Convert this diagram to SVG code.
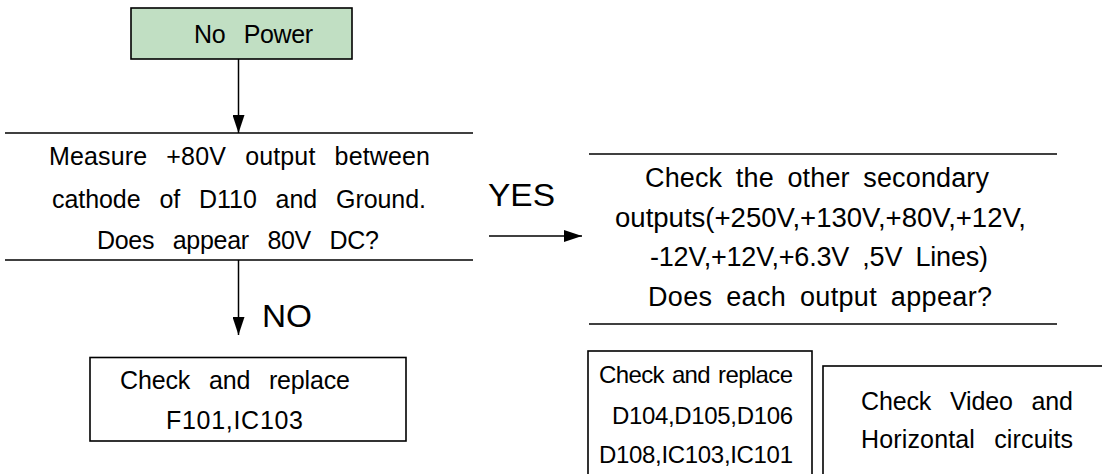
<svg xmlns="http://www.w3.org/2000/svg" width="1102" height="474" viewBox="0 0 1102 474">
<style>
text{font-family:"Liberation Sans",Arial,sans-serif;fill:#000}
.t{font-size:25px;letter-spacing:0px;word-spacing:12px}
.m{font-size:24px;letter-spacing:0px;word-spacing:2px}
.r{font-size:27px;word-spacing:6px}
.big{font-size:31px}
.bx{fill:#fff;stroke:#000;stroke-width:1.6}
.ln{stroke:#000;stroke-width:1.6;fill:none}
.ar{stroke:#000;stroke-width:1.5;fill:none;marker-end:url(#ah)}
</style>
<defs>
<marker id="ah" markerUnits="userSpaceOnUse" markerWidth="18" markerHeight="12" refX="18" refY="6" orient="auto">
<path d="M0,0 L18,6 L0,12 z" fill="#000"/>
</marker>
</defs>
<g id="connectors">
<line class="ar" x1="238.5" y1="59" x2="238.5" y2="133"/>
<line class="ar" x1="238.5" y1="260" x2="238.5" y2="335"/>
<line class="ar" x1="489" y1="236" x2="582" y2="236"/>
<text class="big" x="488" y="206" textLength="67" lengthAdjust="spacingAndGlyphs">YES</text>
<text class="big" x="262" y="327" font-size="33" textLength="50" lengthAdjust="spacingAndGlyphs">NO</text>
</g>
<g id="start">
<rect x="131" y="8" width="221" height="51" fill="#c1dfc3" stroke="#000" stroke-width="1.6"/>
<text class="t" x="194" y="43" textLength="119">No Power</text>
</g>
<g id="decision1">
<line class="ln" x1="5" y1="133" x2="473" y2="133"/>
<line class="ln" x1="5" y1="260" x2="473" y2="260"/>
<text class="t" x="49" y="165" textLength="381">Measure +80V output between</text>
<text class="t" x="52" y="208" textLength="374">cathode of D110 and Ground.</text>
<text class="t" x="97" y="249" textLength="282">Does appear 80V DC?</text>
</g>
<g id="decision2">
<line class="ln" x1="589" y1="154" x2="1057" y2="154"/>
<line class="ln" x1="589" y1="324" x2="1057" y2="324"/>
<text class="r" x="645" y="187" textLength="344">Check the other secondary</text>
<text class="r" x="615" y="227" textLength="411" lengthAdjust="spacingAndGlyphs">outputs(+250V,+130V,+80V,+12V,</text>
<text class="r" x="650" y="266" textLength="338">-12V,+12V,+6.3V  ,5V Lines)</text>
<text class="r" x="648" y="306" textLength="344">Does each output appear?</text>
</g>
<g id="fix1">
<rect class="bx" x="90" y="357.5" width="316" height="83.5"/>
<text class="t" x="120" y="389" textLength="230">Check and replace</text>
<text class="t" x="166" y="429" textLength="137">F101,IC103</text>
</g>
<g id="fix2">
<rect class="bx" x="588" y="351" width="224" height="130"/>
<text class="m" x="599" y="383" textLength="194">Check and replace</text>
<text class="m" x="612" y="424" textLength="181">D104,D105,D106</text>
<text class="m" x="599" y="463" textLength="194">D108,IC103,IC101</text>
</g>
<g id="fix3">
<rect class="bx" x="823" y="366" width="290" height="120"/>
<text class="t" x="861" y="410" textLength="212">Check Video and</text>
<text class="t" x="861" y="448" textLength="212">Horizontal circuits</text>
</g>
</svg>
